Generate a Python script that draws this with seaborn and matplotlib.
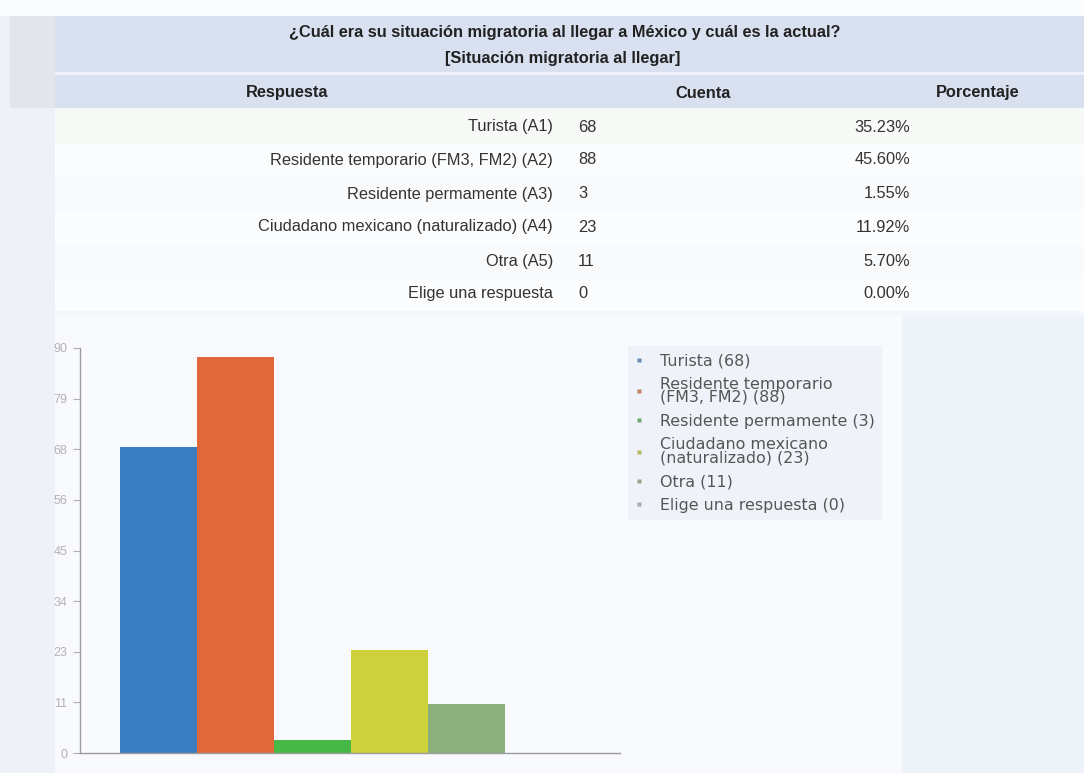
import numpy as np
import pandas as pd
import matplotlib
matplotlib.use("Agg")
import matplotlib.pyplot as plt
import seaborn as sns
from matplotlib.patches import Rectangle
from matplotlib.lines import Line2D

# ---- data -------------------------------------------------------------
question = "¿Cuál era su situación migratoria al llegar a México y cuál es la actual?"
subquestion = "[Situación migratoria al llegar]"
col_headers = ["Respuesta", "Cuenta", "Porcentaje"]
answers = [
    "Turista (A1)",
    "Residente temporario (FM3, FM2) (A2)",
    "Residente permamente (A3)",
    "Ciudadano mexicano (naturalizado) (A4)",
    "Otra (A5)",
    "Elige una respuesta",
]
counts = [68, 88, 3, 23, 11, 0]
percents = [35.23, 45.60, 1.55, 11.92, 5.70, 0.00]
legend_names = [
    "Turista",
    "Residente temporario\n(FM3, FM2)",
    "Residente permamente",
    "Ciudadano mexicano\n(naturalizado)",
    "Otra",
    "Elige una respuesta",
]
bar_colors = ["#3b7dc1", "#e0683b", "#45b845", "#cdd13c", "#8cb07c", "#b8b8b8"]
y_max = 90
y_ticks = [0, 11.25, 22.5, 33.75, 45, 56.25, 67.5, 78.75, 90]
y_tick_labels = ["0", "11", "23", "34", "45", "56", "68", "79", "90"]

# ---- figure -----------------------------------------------------------
sns.set_theme(style="white")
plt.rcParams["font.family"] = ["Liberation Sans", "DejaVu Sans"]

W, H = 1084, 773
fig = plt.figure(figsize=(W / 100, H / 100), dpi=100)
fig.patch.set_facecolor("#f4f6fa")


def fx(x):
    return x / W


def fy(y):
    return 1 - y / H


def block(x0, y0, x1, y1, color, z=-5):
    fig.add_artist(Rectangle((fx(x0), fy(y1)), (x1 - x0) / W, (y1 - y0) / H,
                             transform=fig.transFigure, facecolor=color,
                             edgecolor="none", zorder=z))


# page background areas
block(0, 0, W, 16, "#fafbfc")
block(0, 16, 55, H, "#eef2f8")
block(10, 16, 55, 108, "#e2e5ec")
block(55, 16, W, 108, "#d9e0f0")
block(55, 72, W, 75, "#eef1f8")
row_tints = ["#f7f9f6", "#fbfcfd", "#f8fafc", "#fbfcfd", "#f8fafc", "#fbfcfd"]
for i, c in enumerate(row_tints):
    block(55, 110 + i * 33.5, W, 110 + (i + 1) * 33.5, c)
block(55, 315, 902, H, "#f9fafd")
block(902, 315, W, H, "#eef3fa")

# ---- table ------------------------------------------------------------
title_kw = dict(fontsize=11.8, fontweight="bold", color="#222222",
                ha="center", va="center")
fig.text(fx(565), fy(33), question, **title_kw)
fig.text(fx(563), fy(58), subquestion, **title_kw)
for name, x in zip(col_headers, [287, 703, 978]):
    fig.text(fx(x), fy(93), name, **title_kw)

row_y = [127, 160, 194, 227, 261, 294]
row_kw = dict(fontsize=11.8, color="#333333", va="center")
for ans, cnt, pct, y in zip(answers, counts, percents, row_y):
    fig.text(fx(553), fy(y), ans, ha="right", **row_kw)
    fig.text(fx(578), fy(y), f"{cnt}", ha="left", **row_kw)
    fig.text(fx(910), fy(y), f"{pct:.2f}%", ha="right", **row_kw)

# ---- bar chart --------------------------------------------------------
df = pd.DataFrame({"answer": answers, "count": counts})
ax = fig.add_axes([fx(80), fy(753), 540 / W, 405 / H])
ax.set_facecolor("none")
sns.barplot(data=df, x="answer", y="count", hue="answer", palette=bar_colors,
            width=1.0, saturation=1, linewidth=0, legend=False, ax=ax)
ax.set_xlim(-1.02, 5.99)
ax.set_ylim(0, y_max)
ax.set_xlabel("")
ax.set_ylabel("")
ax.set_xticks([])
ax.set_yticks(y_ticks)
ax.set_yticklabels(y_tick_labels)
ax.tick_params(axis="y", direction="out", length=5, width=0.8,
               color="#b0b0b0", labelcolor="#b3b3b3", labelsize=9, pad=4,
               left=True)
for side in ["top", "right"]:
    ax.spines[side].set_visible(False)
for side in ["left", "bottom"]:
    ax.spines[side].set_color("#9c9c9c")
    ax.spines[side].set_linewidth(1.0)


# legend
def marker_color(c):
    rgb = np.array(matplotlib.colors.to_rgb(c))
    return tuple(0.55 * rgb + 0.45 * np.array([0.6, 0.6, 0.6]))


handles = [Line2D([], [], marker="s", ls="", markersize=3.5,
                  markerfacecolor=marker_color(c), markeredgecolor="none")
           for c in bar_colors]
labels = [f"{n} ({c})" for n, c in zip(legend_names, counts)]
leg = fig.legend(handles, labels, loc="upper left",
                 bbox_to_anchor=(fx(620), fy(338)), frameon=True,
                 facecolor="#eff2f8", edgecolor="none", framealpha=1,
                 fancybox=False, handlelength=0.45, handletextpad=1.1,
                 labelspacing=0.55, borderpad=0.45,
                 prop={"family": "DejaVu Sans", "size": 11.4})
for t in leg.get_texts():
    t.set_color("#555555")
    t.set_linespacing(0.85)

fig.savefig("out.png", dpi=100, facecolor=fig.get_facecolor())
